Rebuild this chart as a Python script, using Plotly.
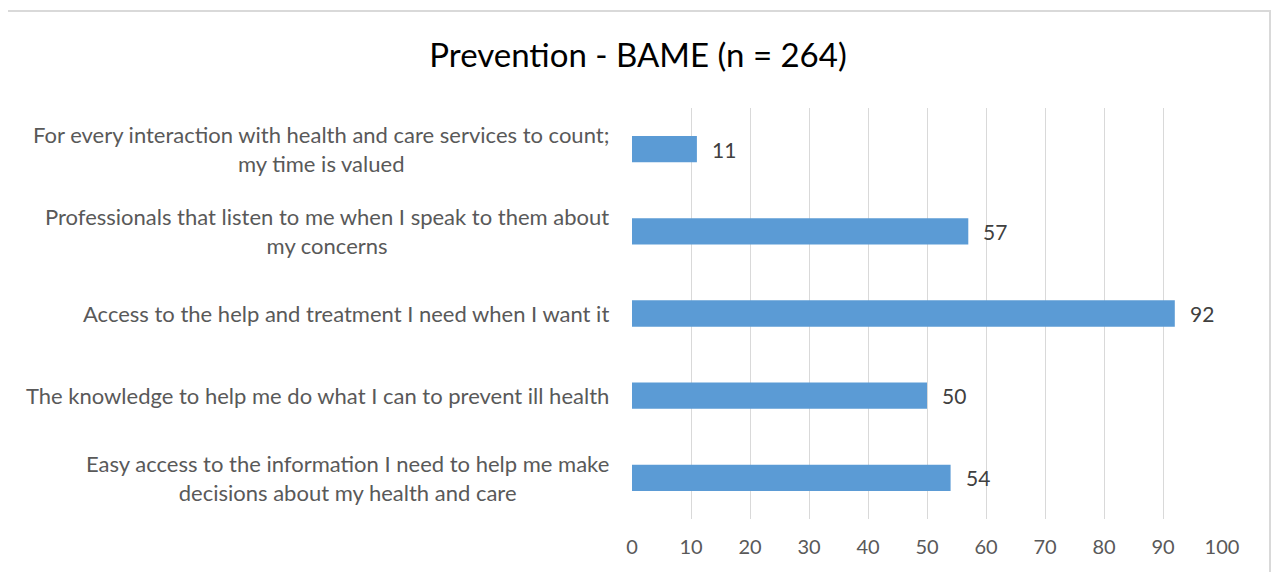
import plotly.graph_objects as go

categories = [
    "For every interaction with health and care services to count;<br>my time is valued",
    "Professionals that listen to me when I speak to them about<br>my concerns",
    "Access to the help and treatment I need when I want it",
    "The knowledge to help me do what I can to prevent ill health",
    "Easy access to the information I need to help me make<br>decisions about my health and care",
]
values = [11, 57, 92, 50, 54]
x_ticks = [0, 10, 20, 30, 40, 50, 60, 70, 80, 90, 100]
title_text = "Prevention - BAME (n = 264)"

OFF = 8  # page body margin
W, H = 1282 - OFF, 572 - OFF
ml, mr, mt, mb = 632 - OFF, 60, 108 - OFF, 53
pw, ph = W - ml - mr, H - mt - mb

fig = go.Figure()
fig.add_trace(go.Bar(
    x=values, y=categories, orientation="h",
    marker=dict(color="#5B9BD5", line=dict(width=0)),
    hoverinfo="skip",
))

font_family = "Lato, 'Open Sans', sans-serif"

annotations = []
for c, v in zip(categories, values):
    annotations.append(dict(x=v, y=c, xref="x", yref="y", text=str(v), showarrow=False,
                            xanchor="left", xshift=13, font=dict(size=21, color="#404040", family=font_family)))
    annotations.append(dict(x=0, y=c, xref="paper", yref="y", text=c, showarrow=False,
                            xanchor="right", align="center", xshift=-21,
                            font=dict(size=22, color="#595959", family=font_family)))

def px_to_paper_x(px):
    return (px - OFF - ml) / pw

def py_to_paper_y(py):
    return (H - mb - (py - OFF)) / ph

fig.update_layout(
    width=W, height=H,
    margin=dict(l=ml, r=mr, t=mt, b=mb),
    paper_bgcolor="white", plot_bgcolor="white",
    title=dict(text=title_text, x=(638 - OFF) / W, xanchor="center",
               y=1 - (55 - OFF) / H, yanchor="middle",
               font=dict(size=33, color="#000000", family=font_family)),
    bargap=0.68,
    showlegend=False,
    xaxis=dict(range=[0, 100], tickvals=x_ticks, showgrid=True, gridcolor="#D9D9D9", gridwidth=1,
               zeroline=False, showline=False, ticks="", ticklen=0, ticklabelstandoff=14,
               tickfont=dict(size=20, color="#595959", family=font_family), fixedrange=True),
    yaxis=dict(autorange="reversed", showticklabels=False, showgrid=False, zeroline=False,
               showline=False, ticks="", fixedrange=True),
    annotations=annotations,
    shapes=[dict(type="rect", xref="paper", yref="paper",
                 x0=px_to_paper_x(6), x1=px_to_paper_x(1270),
                 y0=py_to_paper_y(600), y1=py_to_paper_y(11),
                 line=dict(color="#D9D9D9", width=2), fillcolor="rgba(0,0,0,0)", layer="below")],
)

fig.write_html("out.html", config={"displayModeBar": False})
